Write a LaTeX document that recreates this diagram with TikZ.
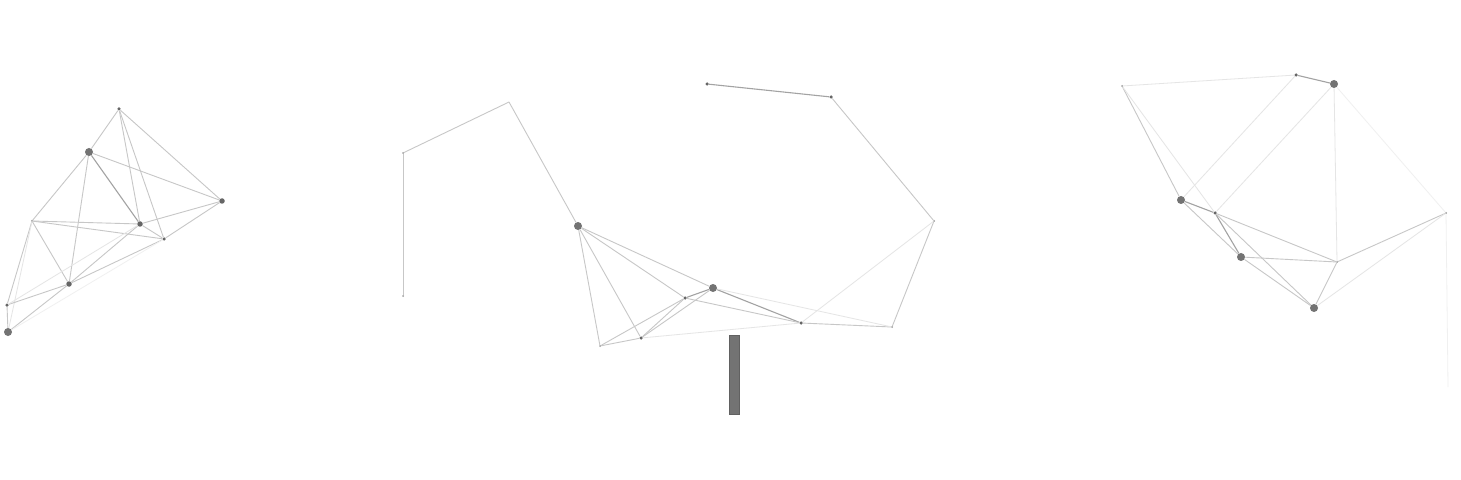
\documentclass[tikz,border=0pt]{standalone}
\begin{document}
\begin{tikzpicture}[x=1bp,y=-1bp,
  big/.style={circle,fill=black!55,inner sep=0pt,minimum size=8bp},
  med/.style={circle,fill=black!60,inner sep=0pt,minimum size=5.5bp},
  sml/.style={circle,fill=black!60,inner sep=0pt,minimum size=3.5bp},
  tny/.style={circle,fill=black!40,inner sep=0pt,minimum size=2bp},
  edge/.style={draw=black!22,line width=0.9bp},
  dark/.style={draw=black!36,line width=1.1bp},
  faint/.style={draw=black!10,line width=0.8bp},
  vfaint/.style={draw=black!6,line width=0.8bp}]
\useasboundingbox[fill=white] (0,0) rectangle (1461,480);
% ---------- left graph ----------
\node[sml] (A) at (119,109) {};
\node[big] (B) at (89,152) {};
\node[med] (C) at (222,201) {};
\node[tny] (D) at (32,221) {};
\node[med] (E) at (140,224) {};
\node[sml] (F) at (164,239) {};
\node[med] (G) at (69,284) {};
\node[sml] (H) at (7,305) {};
\node[big] (I) at (8,332) {};
\draw[edge] (A) -- (B);
\draw[edge] (A) -- (C);
\draw[edge] (A) -- (E);
\draw[edge] (A) -- (F);
\draw[edge] (B) -- (D);
\draw[dark] (B) -- (E);
\draw[edge] (B) -- (C);
\draw[edge] (B) -- (G);
\draw[edge] (E) -- (F);
\draw[edge] (C) -- (E);
\draw[edge] (C) -- (F);
\draw[edge] (D) -- (E);
\draw[edge] (D) -- (F);
\draw[edge] (D) -- (G);
\draw[edge] (D) -- (H);
\draw[faint] (D) -- (I);
\draw[edge] (E) -- (G);
\draw[edge] (F) -- (G);
\draw[edge] (G) -- (H);
\draw[edge] (G) -- (I);
\draw[edge] (H) -- (I);
\draw[faint] (H) -- (E);
\draw[vfaint] (I) -- (F);
% ---------- middle graph ----------
\node[tny] (M1) at (403,153) {};
\node[tny] (M2) at (403,296) {};
\coordinate (M3) at (509,102);
\node[big] (M4) at (578,226) {};
\node[sml] (M5) at (707,84) {};
\node[sml] (M6) at (831,97) {};
\node[tny] (M7) at (934,221) {};
\node[big] (M8) at (713,288) {};
\node[sml] (M9) at (685,298) {};
\node[sml] (M10) at (801,323) {};
\node[tny] (M11) at (892,327) {};
\node[tny] (M12) at (600,346) {};
\node[sml] (M13) at (641,338) {};
\draw[edge] (M1) -- (M2);
\draw[edge] (M1) -- (M3);
\draw[edge] (M3) -- (M4);
\draw[dark] (M5) -- (M6);
\draw[edge] (M6) -- (M7);
\draw[edge] (M7) -- (M11);
\draw[faint] (M7) -- (M10);
\draw[edge] (M4) -- (M12);
\draw[edge] (M4) -- (M13);
\draw[edge] (M4) -- (M9);
\draw[edge] (M4) -- (M8);
\draw[dark] (M8) -- (M9);
\draw[dark] (M8) -- (M10);
\draw[edge] (M9) -- (M10);
\draw[edge] (M9) -- (M12);
\draw[edge] (M8) -- (M13);
\draw[edge] (M9) -- (M13);
\draw[edge] (M12) -- (M13);
\draw[faint] (M13) -- (M10);
\draw[edge] (M10) -- (M11);
\draw[faint] (M8) -- (M11);
% bar
\node[draw=black!62,fill=black!55,line width=0.8bp,inner sep=0pt,minimum width=10bp,minimum height=79bp] (bar) at (734,374.5) {};
% ---------- right graph ----------
\node[tny] (R1) at (1122,86) {};
\node[sml] (R2) at (1296,75) {};
\node[big] (R3) at (1334,84) {};
\node[big] (R4) at (1181,200) {};
\node[sml] (R5) at (1215,213) {};
\node[big] (R6) at (1241,257) {};
\node[tny] (R7) at (1337,262) {};
\node[big] (R8) at (1314,308) {};
\node[tny] (R9) at (1446,213) {};
\coordinate (R10) at (1448,387);
\draw[faint] (R1) -- (R2);
\draw[dark] (R2) -- (R3);
\draw[edge] (R1) -- (R4);
\draw[faint] (R1) -- (R5);
\draw[faint] (R2) -- (R4);
\draw[faint] (R3) -- (R5);
\draw[faint] (R3) -- (R7);
\draw[vfaint] (R3) -- (R9);
\draw[dark] (R4) -- (R5);
\draw[edge] (R4) -- (R6);
\draw[dark] (R5) -- (R6);
\draw[edge] (R5) -- (R7);
\draw[edge] (R5) -- (R8);
\draw[edge] (R6) -- (R7);
\draw[edge] (R6) -- (R8);
\draw[edge] (R7) -- (R8);
\draw[edge] (R7) -- (R9);
\draw[faint] (R8) -- (R9);
\draw[vfaint] (R9) -- (R10);
\end{tikzpicture}
\end{document}
